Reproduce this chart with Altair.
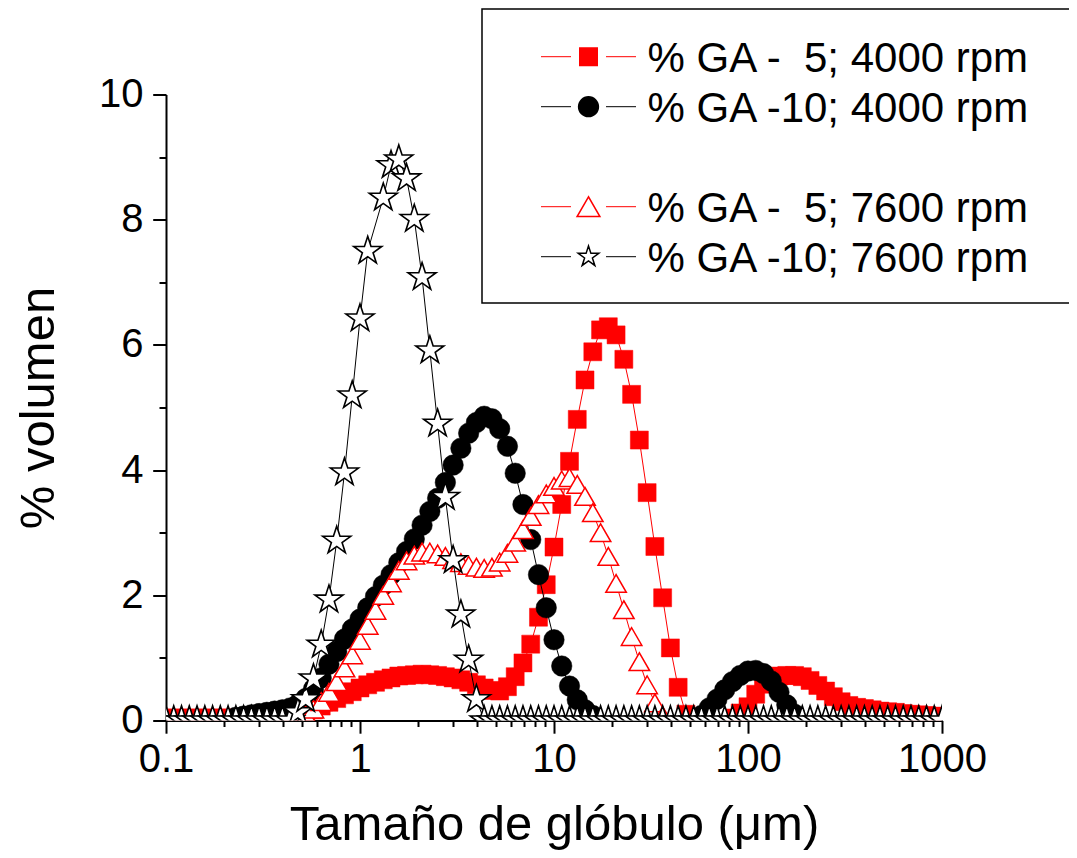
import json
import altair as alt
import pandas as pd

FONT = "Liberation Sans"

# ---- particle size classes (um), log spaced bins ----
SIZES_UM = [
    0.1000, 0.1096, 0.1202, 0.1318, 0.1445, 0.1585, 0.1738, 0.1905, 0.2089, 0.2291,
    0.2512, 0.2754, 0.3020, 0.3311, 0.3631, 0.3981, 0.4365, 0.4786, 0.5248, 0.5754,
    0.6310, 0.6918, 0.7586, 0.8318, 0.9120,
    1.000, 1.096, 1.202, 1.318, 1.445, 1.585, 1.738, 1.905, 2.089, 2.291,
    2.512, 2.754, 3.020, 3.311, 3.631, 3.981, 4.365, 4.786, 5.248, 5.754,
    6.310, 6.918, 7.586, 8.318, 9.120,
    10.00, 10.96, 12.02, 13.18, 14.45, 15.85, 17.38, 19.05, 20.89, 22.91,
    25.12, 27.54, 30.20, 33.11, 36.31, 39.81, 43.65, 47.86, 52.48, 57.54,
    63.10, 69.18, 75.86, 83.18, 91.20,
    100.0, 109.6, 120.2, 131.8, 144.5, 158.5, 173.8, 190.5, 208.9, 229.1,
    251.2, 275.4, 302.0, 331.1, 363.1, 398.1, 436.5, 478.6, 524.8, 575.4,
    631.0, 691.8, 758.6, 831.8, 912.0,
    1000.0,
]

N = None
# % GA - 5; 4000 rpm (red filled squares)
GA5_4000 = (
    [0.04] * 17
    + [0.08, 0.12, 0.17, 0.23, 0.29, 0.35, 0.41, 0.46]
    + [0.52, 0.57, 0.61, 0.65, 0.68, 0.71, 0.72, 0.73, 0.74, 0.73, 0.72, 0.70, 0.68,
       0.65, 0.61, 0.57, 0.52, 0.48, 0.47, 0.54, 0.70, 0.92, 1.22, 1.65, 2.17]
    + [2.77, 3.45, 4.14, 4.81, 5.44, 5.89, 6.24, 6.29, 6.16, 5.77, 5.21, 4.48, 3.64,
       2.78, 1.96, 1.16, 0.53, 0.10, N, N, N, N, N, 0.04, 0.12]
    + [0.22, 0.42, 0.58, 0.66, 0.71, 0.72, 0.72, 0.70, 0.64, 0.56, 0.47, 0.38, 0.30,
       0.24, 0.21, 0.19, 0.17, 0.15, 0.14, 0.13, 0.11, 0.10, 0.09, 0.08, 0.07, 0.06]
)
# % GA -10; 4000 rpm (black filled circles)
GA10_4000 = (
    [N] * 9
    + [0.05, 0.07, 0.09, 0.11, 0.13, 0.15, 0.17, 0.20, 0.26, 0.35, 0.50, 0.68, 0.90,
       1.10, 1.30, 1.46]
    + [1.62, 1.80, 1.98, 2.16, 2.33, 2.52, 2.70, 2.90, 3.12, 3.34, 3.55, 3.80, 4.08,
       4.35, 4.59, 4.76, 4.86, 4.82, 4.66, 4.38, 3.95, 3.45, 2.89, 2.33, 1.80]
    + [1.29, 0.87, 0.55, 0.33, 0.17, 0.08] + [N] * 13
    + [0.08, 0.20, 0.34, 0.49, 0.62, 0.72]
    + [0.79, 0.80, 0.75, 0.63, 0.45, 0.25, 0.10] + [N] * 19
)
# % GA - 5; 7600 rpm (red open triangles)
GA5_7600 = (
    [N] * 17 + [0.04]
    + [0.10, 0.18, 0.30, 0.45, 0.62, 0.84, 1.05]
    + [1.28, 1.52, 1.76, 2.00, 2.20, 2.40, 2.55, 2.64, 2.69, 2.69, 2.66, 2.62, 2.57,
       2.52, 2.48, 2.45, 2.43, 2.45, 2.53, 2.67, 2.85, 3.05, 3.26, 3.45, 3.62]
    + [3.74, 3.84, 3.88, 3.77, 3.58, 3.32, 3.00, 2.62, 2.19, 1.77, 1.34, 0.94, 0.57,
       0.28, 0.08] + [N] * 10
    + [N] * 26
)
# % GA -10; 7600 rpm (open stars)
GA10_7600 = (
    [0.0] * 17
    + [0.13, 0.34, 0.67, 1.21, 1.93, 2.87, 3.96, 5.19]
    + [6.42, 7.50, N, 8.35, 8.87, 8.96, 8.66, 8.01, 7.08, 5.91, 4.74, 3.57, 2.56,
       1.69, 0.97, 0.34] + [0.0] * 9
    + [0.0] * 25
    + [0.0] * 26
)

SERIES = [
    "% GA -\u00a0\u00a05; 4000 rpm",
    "% GA -10; 4000 rpm",
    "% GA -\u00a0\u00a05; 7600 rpm",
    "% GA -10; 7600 rpm",
]
VALUES = [GA5_4000, GA10_4000, GA5_7600, GA10_7600]
# series whose line simply bridges a missing point
BRIDGE = [False, False, False, True]

X_MAJOR = [0.1, 1, 10, 100, 1000]
X_TICKS = [0.1, 0.2, 0.3, 0.4, 0.5, 0.6, 0.7, 0.8, 0.9,
           1, 2, 3, 4, 5, 6, 7, 8, 9,
           10, 20, 30, 40, 50, 60, 70, 80, 90,
           100, 200, 300, 400, 500, 600, 700, 800, 900, 1000]
Y_TICKS = [0, 1, 2, 3, 4, 5, 6, 7, 8, 9, 10]

STAR = ("M0,-1L0.2245,-0.309L0.9511,-0.309L0.3633,0.118L0.5878,0.809L0,0.382"
        "L-0.5878,0.809L-0.3633,0.118L-0.9511,-0.309L-0.2245,-0.309Z")

# ---- build table ----
rows = []
for name, vals, bridge in zip(SERIES, VALUES, BRIDGE):
    seg = 0
    gap = True
    for x, y in zip(SIZES_UM, vals):
        if y is None:
            if not bridge:
                gap = True
            continue
        if gap:
            seg += 1
            gap = False
        rows.append({"size": x, "vol": y, "series": name, "seg": f"{name}|{seg}"})
df = pd.DataFrame(rows)

x_major_test = f"indexof({json.dumps(X_MAJOR)}, datum.value) >= 0"
y_major_test = "datum.value % 2 == 0"

x_axis = alt.Axis(
    values=X_TICKS, format="~g",
    labelExpr=f"{x_major_test} ? datum.label : ''",
    tickSize={"condition": {"test": x_major_test, "value": 12.7}, "value": 6},
    tickWidth=2, tickColor="black", domainWidth=2, domainColor="black",
    labelFont=FONT, labelFontSize=40, labelColor="black",
    labelBaseline="alphabetic", labelPadding=38,
    labelFlush=False, labelOverlap=False, grid=False,
    title="Tamaño de glóbulo (μm)", titleFont=FONT, titleFontSize=49,
    titleFontWeight="normal", titleColor="black",
    titleBaseline="alphabetic", titleY=118.5,
)
y_axis = alt.Axis(
    values=Y_TICKS,
    labelExpr=f"{y_major_test} ? datum.label : ''",
    tickSize={"condition": {"test": y_major_test, "value": 13.3}, "value": 7},
    tickWidth=2, tickColor="black", domainWidth=2, domainColor="black",
    labelFont=FONT, labelFontSize=40, labelColor="black",
    labelPadding=9.7, labelFlush=False, labelOverlap=False, grid=False,
    title="% volumen", titleFont=FONT, titleFontSize=49,
    titleFontWeight="normal", titleColor="black",
    titleBaseline="alphabetic", titleX=-113, titleY=313, titleAngle=270,
)

X = alt.X("size:Q", scale=alt.Scale(type="log", domain=[0.1, 1000], nice=False), axis=x_axis)
Y = alt.Y("vol:Q", scale=alt.Scale(domain=[0, 10], nice=False, zero=False), axis=y_axis)

base = alt.Chart(df).encode(x=X, y=Y)

STYLE = [
    dict(color="#ff0000", shape="square", fill="#ff0000", stroke="#ff0000", size=324, sw=0.5),
    dict(color="black", shape="circle", fill="black", stroke="black", size=420, sw=0.5),
    dict(color="#ff0000", shape="triangle-up", fill="white", stroke="#ff0000", size=420, sw=1.5),
    dict(color="black", shape=STAR, fill="white", stroke="black", size=864, sw=1.6),
]

layers = []
for name, st in zip(SERIES, STYLE):
    sel = base.transform_filter(alt.datum.series == name)
    layers.append(
        sel.mark_line(color=st["color"], strokeWidth=1, clip=True).encode(detail="seg:N")
    )
    layers.append(
        sel.mark_point(shape=st["shape"], filled=True, fill=st["fill"], stroke=st["stroke"],
                       strokeWidth=st["sw"], size=st["size"], opacity=1, fillOpacity=1,
                       clip=True)
    )

# ---- legend (pixel layout) ----
legend_df = pd.DataFrame({
    "label": SERIES,
    "ly": [-37.8, 12.2, 112.2, 162.2],
    "ty": [-22.8, 27.2, 127.2, 177.2],
    "col": ["#ff0000", "black", "#ff0000", "black"],
    "shp": ["square", "circle", "triangle-up", STAR],
    "fil": ["#ff0000", "black", "white", "white"],
    "stk": ["#ff0000", "black", "#ff0000", "black"],
    "sz": [306, 392, 520, 466],
})
box = alt.Chart(pd.DataFrame({"a": [0]})).mark_rect(
    fill="white", stroke="black", strokeWidth=1.5
).encode(x=alt.value(316), x2=alt.value(940), y=alt.value(-85.5), y2=alt.value(208.5))

leg = alt.Chart(legend_df)
LY = alt.Y("ly:Q", scale=None, axis=None)
rule_l = leg.mark_rule(strokeWidth=1).encode(
    x=alt.value(375), x2=alt.value(405), y=LY, color=alt.Color("col:N", scale=None))
rule_r = leg.mark_rule(strokeWidth=1).encode(
    x=alt.value(440), x2=alt.value(470), y=LY, color=alt.Color("col:N", scale=None))
marks = leg.mark_point(filled=True, opacity=1, strokeWidth=1.5).encode(
    x=alt.value(422.5), y=LY,
    shape=alt.Shape("shp:N", scale=None),
    fill=alt.Fill("fil:N", scale=None),
    stroke=alt.Stroke("stk:N", scale=None),
    size=alt.Size("sz:Q", scale=None),
)
texts = leg.mark_text(align="left", baseline="alphabetic", fontSize=42, font=FONT,
                      color="black").encode(
    x=alt.value(481.6), y=alt.Y("ty:Q", scale=None, axis=None), text="label:N")

chart = alt.layer(*layers, box, rule_l, rule_r, marks, texts).properties(
    width=776, height=626,
    autosize=alt.AutoSizeParams(type="none"),
    padding={"left": 158, "top": 86.5, "right": 127, "bottom": 129.5},
    background="white",
).configure_view(strokeWidth=0)

chart.save("out.html", embed_options={"renderer": "svg", "actions": False})
